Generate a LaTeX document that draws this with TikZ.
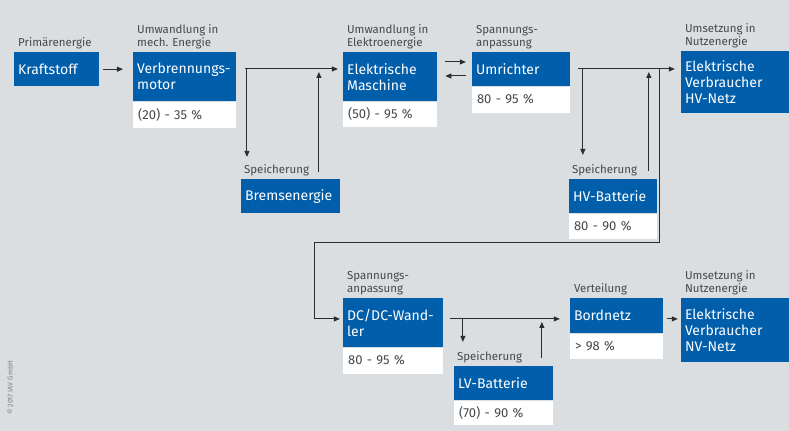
\documentclass[tikz,border=0pt]{standalone}
\usepackage{fontspec}
\setmainfont{Fira Sans}
\usepackage{tikz}
\definecolor{iavBlue}{RGB}{0, 94, 170}
\definecolor{iavBack}{RGB}{219, 222, 225}
\definecolor{iavText}{RGB}{70, 72, 75}
\definecolor{iavLine}{RGB}{45, 45, 45}
\usetikzlibrary{arrows.meta, positioning}

\begin{document}
\begin{tikzpicture}[
    x=1pt, y=-1pt,
    box/.style={rectangle, fill=iavBlue, text=white, anchor=north west, align=left, inner xsep=4pt, inner ysep=0pt, text width=#1, font=\fontsize{14}{16}\selectfont},
    rate/.style={rectangle, fill=white, text=iavText, anchor=north west, align=left, inner xsep=5pt, inner ysep=0pt, text width=#1, font=\fontsize{13}{16}\selectfont},
    caption/.style={text=iavText, align=left, inner sep=0pt, font=\fontsize{11.5}{13}\selectfont},
    line/.style={line width=1pt, iavLine},
    arrow/.style={line, -{Triangle[length=6pt, width=5pt]}}
]
    \fill[iavBack] (0,0) rectangle (789,431);

    \node[box=77, minimum height=34] (kraft) at (14,52) {Kraftstoff};
    \node[box=95, minimum height=49] (motor) at (133,52) {Verbrennungs-\\motor};
    \node[box=91, minimum height=34] (brems) at (241,179) {Bremsenergie};
    \node[box=86, minimum height=49] (emasch) at (343,52) {Elektrische\\Maschine};
    \node[box=90, minimum height=34] (umr) at (472,52) {Umrichter};
    \node[box=80, minimum height=34] (hvbat) at (569,179) {HV-Batterie};
    \node[box=100, minimum height=62] (hvnetz) at (681,51) {Elektrische\\Verbraucher\\HV-Netz};
    \node[box=92, minimum height=49] (dcdc) at (343,298) {DC/DC-Wand-\\ler};
    \node[box=91, minimum height=34] (lvbat) at (454,366) {LV-Batterie};
    \node[box=85, minimum height=35] (bord) at (570,298) {Bordnetz};
    \node[box=100, minimum height=64] (nvnetz) at (681,298) {Elektrische\\Verbraucher\\NV-Netz};

    \node[rate=93, minimum height=26] (motor-r) at (motor.south west) {(20) - 35 \%};
    \node[rate=84, minimum height=25] (emasch-r) at (emasch.south west) {(50) - 95 \%};
    \node[rate=88, minimum height=26] (umr-r) at (umr.south west) {80 - 95 \%};
    \node[rate=78, minimum height=25] (hvbat-r) at (hvbat.south west) {80 - 90 \%};
    \node[rate=90, minimum height=26] (dcdc-r) at (dcdc.south west) {80 - 95 \%};
    \node[rate=89, minimum height=25] (lvbat-r) at (lvbat.south west) {(70) - 90 \%};
    \node[rate=83, minimum height=25] (bord-r) at (bord.south west) {> 98 \%};

    \node[caption, above right=3pt and 4pt of kraft.north west] (kraft-c) {Primärenergie};
    \node[caption, above right=3pt and 4pt of motor.north west] (motor-c) {Umwandlung in\\mech. Energie};
    \node[caption, above right=3pt and 3pt of brems.north west] (brems-c) {Speicherung};
    \node[caption, above right=3pt and 4pt of emasch.north west] (emasch-c) {Umwandlung in\\Elektroenergie};
    \node[caption, above right=3pt and 4pt of umr.north west] (umr-c) {Spannungs-\\anpassung};
    \node[caption, above right=3pt and 3pt of hvbat.north west] (hvbat-c) {Speicherung};
    \node[caption, above right=3pt and 4pt of hvnetz.north west] (hvnetz-c) {Umsetzung in\\Nutzenergie};
    \node[caption, above right=3pt and 4pt of dcdc.north west] (dcdc-c) {Spannungs-\\anpassung};
    \node[caption, above right=3pt and 3pt of lvbat.north west] (lvbat-c) {Speicherung};
    \node[caption, above right=3pt and 4pt of bord.north west] (bord-c) {Verteilung};
    \node[caption, above right=3pt and 4pt of nvnetz.north west] (nvnetz-c) {Umsetzung in\\Nutzenergie};

    \node[caption, rotate=90, text=iavText!70, font=\fontsize{7}{8}\selectfont] (copy) at (10,388) {© 2017 IAV GmbH};

    \coordinate (split1) at (247,69);
    \coordinate (merge1) at (319,69);
    \coordinate (split2) at (583,69);
    \coordinate (merge2) at (649,69);
    \coordinate (back) at (660,69);
    \coordinate (turn) at (315,243);
    \coordinate (split3) at (463,319);
    \coordinate (merge3) at (542,319);

    \draw[arrow, shorten <=4pt, shorten >=10pt] (kraft.east) -- (kraft.east -| motor.west);
    \draw[arrow, shorten >=5pt] ([xshift=9pt]motor.east |- split1) -- (emasch.west |- split1);
    \draw[arrow, shorten >=22pt] (split1) -- (split1 |- brems.north);
    \draw[arrow, shorten <=7pt, shorten >=3pt] (merge1 |- brems.north) -- (merge1);
    \draw[arrow, shorten <=8pt, shorten >=6pt] ([yshift=-10pt]emasch.north east) -- ([yshift=-10pt]umr.north west);
    \draw[arrow, shorten <=6pt, shorten >=8pt] ([yshift=-24pt]umr.north west) -- ([yshift=-24pt]emasch.north east);
    \draw[arrow, shorten >=6pt] ([xshift=8pt]umr.east |- split2) -- (hvnetz.west |- split2);
    \draw[arrow, shorten >=24pt] (split2) -- (split2 |- hvbat.north);
    \draw[arrow, shorten <=8pt, shorten >=3pt] (merge2 |- hvbat.north) -- (merge2);
    \draw[arrow, shorten >=3pt] (back) |- (turn) |- (dcdc.west |- split3);
    \draw[arrow, shorten >=10pt] ([xshift=7pt]dcdc.east |- split3) -- (bord.west |- split3);
    \draw[arrow, shorten >=24pt] (split3) -- (split3 |- lvbat.north);
    \draw[arrow, shorten <=8pt, shorten >=3pt] (merge3 |- lvbat.north) -- (merge3);
    \draw[arrow, shorten <=4pt, shorten >=3pt] (bord.east |- split3) -- (nvnetz.west |- split3);
\end{tikzpicture}
\end{document}
